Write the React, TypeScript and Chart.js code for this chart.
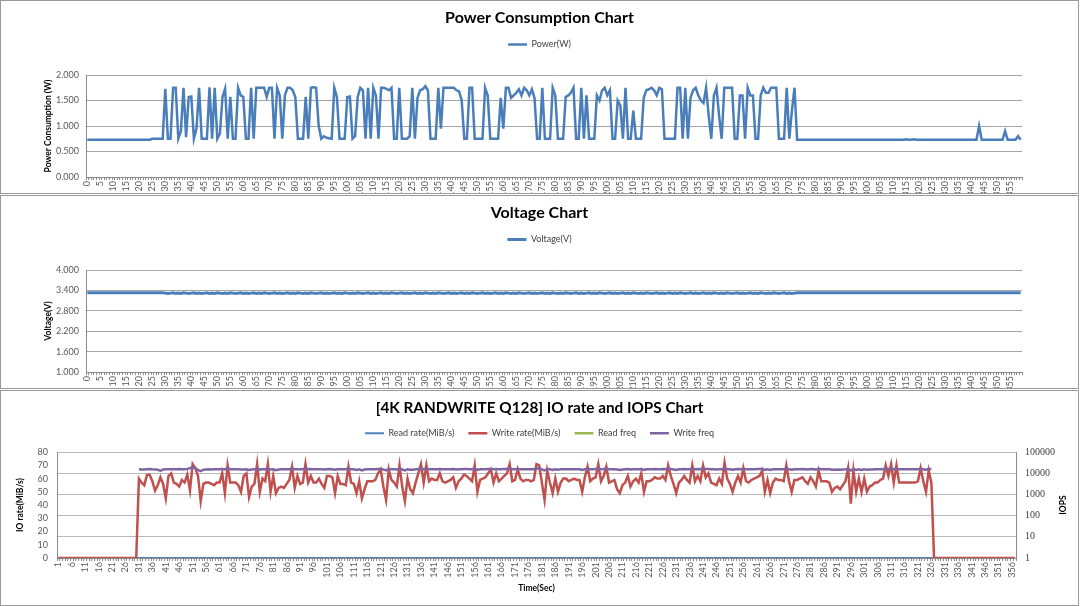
import React, { useEffect, useRef } from 'react';
import { Chart, registerables } from 'chart.js';

Chart.register(...registerables);

const FONT = 'Lato, "Noto Sans", "DejaVu Sans", sans-serif';
const SERIF = '"Liberation Serif", "DejaVu Serif", serif';

// ---------- Power chart (W), seconds 0..359 ----------
const powerIdleHead = [
  0.73, 0.73, 0.73, 0.73, 0.73, 0.73, 0.73, 0.73, 0.73, 0.73,
  0.73, 0.73, 0.73, 0.73, 0.73, 0.73, 0.73, 0.73, 0.73, 0.73,
  0.73, 0.73, 0.73, 0.73, 0.73, 0.75, 0.75, 0.75, 0.75, 0.75,
];
const powerLoad = [
  1.73, 0.75, 0.75, 1.75, 1.75, 0.75, 0.9, 1.75, 0.78, 1.57,
  1.58, 0.75, 0.95, 1.75, 0.75, 0.75, 0.75, 1.76, 0.75, 1.75,
  0.75, 0.85, 1.57, 1.73, 0.75, 1.57, 0.75, 0.75, 1.75, 1.6,
  1.57, 0.75, 0.75, 1.75, 0.75, 1.75, 1.75, 1.75, 1.75, 1.57,
  1.75, 1.75, 0.75, 1.75, 1.6, 0.75, 1.6, 1.75, 1.75, 1.7,
  1.57, 0.75, 0.75, 0.75, 1.57, 0.75, 1.75, 1.76, 1.75, 1.0,
  0.75, 0.8, 0.77, 0.76, 0.75, 1.75, 1.57, 0.75, 0.75, 0.75,
  1.57, 1.58, 0.75, 0.8, 1.57, 1.75, 1.7, 0.75, 1.75, 0.75,
  1.75, 1.6, 0.75, 1.75, 1.75, 1.73, 1.7, 1.75, 0.75, 0.75,
  1.75, 0.75, 0.75, 0.75, 0.8, 1.75, 0.75, 1.55, 1.7, 1.72,
  1.78, 1.7, 0.75, 0.75, 0.75, 1.75, 0.95, 1.75, 1.75, 1.75,
  1.75, 1.75, 1.7, 1.68, 1.5, 0.75, 0.75, 1.75, 1.75, 0.75,
  0.75, 0.75, 0.75, 1.75, 1.6, 0.75, 0.75, 0.75, 0.75, 1.55,
  0.95, 1.75, 1.75, 1.55, 1.6, 1.65, 1.72, 1.6, 1.75, 1.7,
  1.6, 1.72, 1.55, 0.75, 0.75, 1.75, 0.75, 0.75, 0.75, 1.75,
  1.6, 0.75, 0.75, 0.75, 1.57, 1.6, 1.65, 1.75, 0.75, 0.75,
  1.75, 0.75, 1.6, 0.75, 0.75, 0.75, 1.6, 1.5, 1.7, 1.75,
  1.6, 1.7, 0.75, 0.75, 1.5, 1.4, 0.75, 1.75, 0.75, 0.75,
  1.3, 0.75, 0.75, 0.75, 1.55, 1.7, 1.72, 1.75, 1.7, 1.6,
  1.75, 1.72, 0.75, 0.75, 0.75, 0.75, 0.75, 1.75, 1.75, 0.75,
  1.75, 0.75, 1.55, 1.7, 1.75, 1.6, 1.5, 1.45, 1.75, 1.2,
  0.75, 1.6, 1.75, 1.2, 0.75, 1.75, 1.75, 1.75, 1.75, 0.75,
  0.75, 1.6, 1.6, 0.75, 1.75, 1.6, 1.6, 0.75, 0.75, 1.6,
  1.75, 1.65, 1.65, 1.75, 1.75, 1.75, 0.75, 0.75, 0.75, 1.75,
  0.75, 1.3, 1.75,
];
const powerIdleTail = [
  0.73, 0.73, 0.73, 0.73, 0.73, 0.73, 0.73, 0.73, 0.73, 0.73,
  0.73, 0.73, 0.73, 0.73, 0.73, 0.73, 0.73, 0.73, 0.73, 0.73,
  0.73, 0.73, 0.73, 0.73, 0.73, 0.73, 0.73, 0.73, 0.73, 0.73,
  0.73, 0.73, 0.73, 0.73, 0.73, 0.73, 0.73, 0.73, 0.73, 0.73,
  0.73, 0.73, 0.74, 0.73, 0.73, 0.74, 0.73, 0.73, 0.73, 0.73,
  0.73, 0.73, 0.73, 0.73, 0.73, 0.73, 0.73, 0.73, 0.73, 0.73,
  0.73, 0.73, 0.73, 0.73, 0.73, 0.73, 0.73, 0.73, 0.73, 0.73,
  1.0, 0.73, 0.73, 0.73, 0.73, 0.73, 0.73, 0.73, 0.73, 0.73,
  0.9, 0.73, 0.73, 0.73, 0.73, 0.8, 0.73,
];

// ---------- Voltage chart (V), seconds 0..359 ----------
const voltageIdleHead = [
  3.33, 3.33, 3.33, 3.33, 3.33, 3.33, 3.33, 3.33, 3.33, 3.33,
  3.33, 3.33, 3.33, 3.33, 3.33, 3.33, 3.33, 3.33, 3.33, 3.33,
  3.33, 3.33, 3.33, 3.33, 3.33, 3.33, 3.33, 3.33, 3.33, 3.33,
];
const voltageLoad = [
  3.32, 3.31, 3.32, 3.33, 3.31, 3.32, 3.31, 3.33, 3.32, 3.31,
  3.32, 3.33, 3.31, 3.32, 3.31, 3.32, 3.33, 3.31, 3.32, 3.31,
  3.33, 3.32, 3.31, 3.32, 3.31, 3.33, 3.32, 3.31, 3.32, 3.33,
  3.31, 3.32, 3.31, 3.32, 3.33, 3.31, 3.32, 3.31, 3.33, 3.32,
  3.31, 3.32, 3.33, 3.31, 3.32, 3.31, 3.32, 3.33, 3.31, 3.32,
  3.31, 3.33, 3.32, 3.31, 3.32, 3.31, 3.33, 3.32, 3.31, 3.32,
  3.33, 3.31, 3.32, 3.31, 3.32, 3.33, 3.31, 3.32, 3.31, 3.33,
  3.32, 3.31, 3.32, 3.31, 3.33, 3.32, 3.31, 3.32, 3.33, 3.31,
  3.32, 3.31, 3.32, 3.33, 3.31, 3.32, 3.31, 3.33, 3.32, 3.31,
  3.32, 3.33, 3.31, 3.32, 3.31, 3.32, 3.33, 3.31, 3.32, 3.31,
  3.33, 3.32, 3.31, 3.32, 3.31, 3.33, 3.32, 3.31, 3.32, 3.33,
  3.31, 3.32, 3.31, 3.32, 3.33, 3.31, 3.32, 3.31, 3.33, 3.32,
  3.31, 3.32, 3.33, 3.31, 3.32, 3.31, 3.32, 3.33, 3.31, 3.32,
  3.31, 3.33, 3.32, 3.31, 3.32, 3.31, 3.33, 3.32, 3.31, 3.32,
  3.33, 3.31, 3.32, 3.31, 3.32, 3.33, 3.31, 3.32, 3.31, 3.33,
  3.32, 3.31, 3.32, 3.31, 3.33, 3.32, 3.31, 3.32, 3.33, 3.31,
  3.32, 3.31, 3.32, 3.33, 3.31, 3.32, 3.31, 3.33, 3.32, 3.31,
  3.32, 3.33, 3.31, 3.32, 3.31, 3.32, 3.33, 3.31, 3.32, 3.31,
  3.33, 3.32, 3.31, 3.32, 3.31, 3.33, 3.32, 3.31, 3.32, 3.33,
  3.31, 3.32, 3.31, 3.32, 3.33, 3.31, 3.32, 3.31, 3.33, 3.32,
  3.31, 3.32, 3.33, 3.31, 3.32, 3.31, 3.32, 3.33, 3.31, 3.32,
  3.31, 3.33, 3.32, 3.31, 3.32, 3.31, 3.33, 3.32, 3.31, 3.32,
  3.33, 3.31, 3.32, 3.31, 3.32, 3.33, 3.31, 3.32, 3.31, 3.33,
  3.32, 3.31, 3.32, 3.31, 3.33, 3.32, 3.31, 3.32, 3.33, 3.31,
  3.32, 3.31, 3.32,
];
const voltageIdleTail = [
  3.33, 3.33, 3.33, 3.33, 3.33, 3.33, 3.33, 3.33, 3.33, 3.33,
  3.33, 3.33, 3.33, 3.33, 3.33, 3.33, 3.33, 3.33, 3.33, 3.33,
  3.33, 3.33, 3.33, 3.33, 3.33, 3.33, 3.33, 3.33, 3.33, 3.33,
  3.33, 3.33, 3.33, 3.33, 3.33, 3.33, 3.33, 3.33, 3.33, 3.33,
  3.33, 3.33, 3.33, 3.33, 3.33, 3.33, 3.33, 3.33, 3.33, 3.33,
  3.33, 3.33, 3.33, 3.33, 3.33, 3.33, 3.33, 3.33, 3.33, 3.33,
  3.33, 3.33, 3.33, 3.33, 3.33, 3.33, 3.33, 3.33, 3.33, 3.33,
  3.33, 3.33, 3.33, 3.33, 3.33, 3.33, 3.33, 3.33, 3.33, 3.33,
  3.33, 3.33, 3.33, 3.33, 3.33, 3.33, 3.33,
];

// ---------- IO chart, seconds 1..357 ----------
const writeRateIdleHead = [
  0, 0, 0, 0, 0, 0, 0, 0, 0, 0,
  0, 0, 0, 0, 0, 0, 0, 0, 0, 0,
  0, 0, 0, 0, 0, 0, 0, 0, 0, 0,
];
const writeRateLoad = [
  60, 57, 55, 63, 63, 58, 51, 55, 61, 56,
  45, 62, 64, 57, 56, 54, 59, 57, 63, 51,
  71, 68, 62, 43, 56, 57, 57, 56, 55, 57,
  57, 64, 49, 70, 57, 57, 57, 55, 50, 62,
  64, 46, 54, 56, 71, 50, 60, 58, 71, 50,
  62, 49, 53, 54, 53, 56, 59, 69, 53, 62,
  56, 57, 71, 57, 62, 57, 57, 60, 56, 53,
  62, 62, 61, 49, 62, 56, 56, 55, 69, 57,
  56, 49, 58, 45, 52, 58, 58, 58, 59, 64,
  67, 54, 44, 67, 59, 57, 54, 70, 54, 43,
  60, 52, 49, 57, 64, 71, 57, 70, 58, 60,
  59, 59, 64, 58, 57, 58, 59, 61, 53, 58,
  60, 63, 62, 60, 58, 70, 50, 59, 60, 61,
  64, 67, 57, 64, 58, 60, 62, 64, 71, 58,
  59, 67, 60, 58, 59, 59, 58, 59, 71, 70,
  57, 44, 66, 57, 49, 60, 50, 57, 60, 60,
  58, 59, 60, 59, 59, 50, 61, 69, 58, 60,
  61, 71, 58, 62, 69, 57, 58, 59, 52, 49,
  55, 57, 62, 54, 58, 60, 57, 64, 50, 58,
  58, 59, 61, 60, 60, 62, 59, 70, 62, 56,
  49, 57, 59, 62, 59, 57, 70, 58, 62, 58,
  70, 61, 64, 57, 56, 55, 60, 56, 72, 60,
  56, 50, 57, 62, 57, 68, 58, 57, 59, 60,
  61, 62, 66, 50, 59, 49, 57, 60, 59, 59,
  58, 70, 58, 50, 59, 59, 60, 61, 58, 56,
  61, 58, 54, 66, 58, 58, 58, 57, 50, 53,
  54, 52, 55, 58, 68, 41, 66, 50, 60, 50,
  60, 50, 54, 55, 57, 57, 59, 60, 70, 62,
  71, 57, 70, 57, 57, 57, 57, 57, 57, 57,
  58, 68, 58, 50, 66, 57,
];
const writeRateIdleTail = [
  0, 0, 0, 0, 0, 0, 0, 0, 0, 0,
  0, 0, 0, 0, 0, 0, 0, 0, 0, 0,
  0, 0, 0, 0, 0, 0, 0, 0, 0, 0,
  0,
];
const readRate = [
  0, 0, 0, 0, 0, 0, 0, 0, 0, 0, 0, 0, 0, 0, 0, 0, 0, 0, 0, 0,
  0, 0, 0, 0, 0, 0, 0, 0, 0, 0, 0, 0, 0, 0, 0, 0, 0, 0, 0, 0,
  0, 0, 0, 0, 0, 0, 0, 0, 0, 0, 0, 0, 0, 0, 0, 0, 0, 0, 0, 0,
  0, 0, 0, 0, 0, 0, 0, 0, 0, 0, 0, 0, 0, 0, 0, 0, 0, 0, 0, 0,
  0, 0, 0, 0, 0, 0, 0, 0, 0, 0, 0, 0, 0, 0, 0, 0, 0, 0, 0, 0,
  0, 0, 0, 0, 0, 0, 0, 0, 0, 0, 0, 0, 0, 0, 0, 0, 0, 0, 0, 0,
  0, 0, 0, 0, 0, 0, 0, 0, 0, 0, 0, 0, 0, 0, 0, 0, 0, 0, 0, 0,
  0, 0, 0, 0, 0, 0, 0, 0, 0, 0, 0, 0, 0, 0, 0, 0, 0, 0, 0, 0,
  0, 0, 0, 0, 0, 0, 0, 0, 0, 0, 0, 0, 0, 0, 0, 0, 0, 0, 0, 0,
  0, 0, 0, 0, 0, 0, 0, 0, 0, 0, 0, 0, 0, 0, 0, 0, 0, 0, 0, 0,
  0, 0, 0, 0, 0, 0, 0, 0, 0, 0, 0, 0, 0, 0, 0, 0, 0, 0, 0, 0,
  0, 0, 0, 0, 0, 0, 0, 0, 0, 0, 0, 0, 0, 0, 0, 0, 0, 0, 0, 0,
  0, 0, 0, 0, 0, 0, 0, 0, 0, 0, 0, 0, 0, 0, 0, 0, 0, 0, 0, 0,
  0, 0, 0, 0, 0, 0, 0, 0, 0, 0, 0, 0, 0, 0, 0, 0, 0, 0, 0, 0,
  0, 0, 0, 0, 0, 0, 0, 0, 0, 0, 0, 0, 0, 0, 0, 0, 0, 0, 0, 0,
  0, 0, 0, 0, 0, 0, 0, 0, 0, 0, 0, 0, 0, 0, 0, 0, 0, 0, 0, 0,
  0, 0, 0, 0, 0, 0, 0, 0, 0, 0, 0, 0, 0, 0, 0, 0, 0, 0, 0, 0,
  0, 0, 0, 0, 0, 0, 0, 0, 0, 0, 0, 0, 0, 0, 0, 0, 0,
];
const readFreq: (number | null)[] = [];
const writeFreqIdleHead = [
  null, null, null, null, null, null, null, null, null, null,
  null, null, null, null, null, null, null, null, null, null,
  null, null, null, null, null, null, null, null, null, null,
];
const writeFreqLoad = [
  15500, 15300, 15200, 15600, 15800, 15400, 15200, 14800, 13000, 15200,
  15400, 15500, 15700, 15600, 15500, 15800, 15700, 15600, 16000, 17500,
  20000, 17000, 14500, 12800, 14800, 15300, 15400, 15300, 15500, 15600,
  15400, 15900, 15200, 18500, 15500, 15400, 15600, 15500, 15300, 15200,
  15600, 14500, 15300, 15500, 17500, 15000, 15600, 15500, 16500, 15200,
  15400, 14200, 15200, 15600, 15500, 15400, 15700, 16200, 15400, 15600,
  15500, 15600, 16800, 15500, 15800, 15600, 15500, 15700, 15400, 15300,
  15600, 15800, 15700, 14800, 15600, 15500, 15400, 15700, 16500, 15600,
  15500, 14500, 15400, 13800, 15200, 15600, 15600, 15500, 15700, 15900,
  16200, 15300, 13800, 16000, 15600, 15500, 15300, 16800, 15200, 13600,
  15400, 14600, 14800, 15600, 15900, 17000, 15500, 16800, 15600, 15700,
  15600, 15600, 15900, 15500, 15500, 15600, 15600, 15800, 15000, 15500,
  15700, 15900, 15800, 15600, 15500, 16800, 14600, 15600, 15600, 15700,
  15900, 16200, 15500, 15900, 15500, 15600, 15800, 15900, 17000, 15500,
  15600, 16200, 15700, 15500, 15600, 15600, 15500, 15600, 17000, 16800,
  15400, 13800, 16000, 15500, 14500, 15700, 14700, 15500, 15700, 15700,
  15600, 15600, 15700, 15600, 15600, 14600, 15700, 16600, 15500, 15700,
  15800, 17000, 15500, 15900, 16600, 15500, 15600, 15600, 15000, 14500,
  15200, 15500, 15900, 15100, 15500, 15700, 15500, 15900, 14600, 15500,
  15500, 15600, 15800, 15700, 15700, 15900, 15600, 16900, 15900, 15300,
  14500, 15500, 15600, 15900, 15600, 15500, 16900, 15500, 15900, 15500,
  16900, 15800, 15900, 15500, 15400, 15300, 15700, 15400, 17200, 15700,
  15400, 14600, 15500, 15900, 15500, 16500, 15600, 15500, 15600, 15700,
  15800, 15900, 16300, 14600, 15600, 14500, 15500, 15700, 15600, 15600,
  15600, 16900, 15500, 14600, 15600, 15600, 15700, 15800, 15500, 15300,
  15800, 15500, 15000, 16300, 15500, 15500, 15500, 15400, 14600, 14900,
  15000, 14700, 15200, 15500, 16500, 13500, 16200, 14600, 15700, 14600,
  15700, 14600, 15100, 15200, 15400, 15400, 15600, 15700, 16900, 15900,
  17200, 15400, 16900, 15400, 15400, 15400, 15400, 15400, 15400, 15400,
  15500, 16600, 15500, 14600, 16300, 15400,
];
const iopsTicks = [1, 10, 100, 1000, 10000, 100000];
const iopsTitle = 'IOPS';

const powerSeconds = Array.from({ length: 360 }, (_, i) => String(i));
const ioSeconds = Array.from({ length: 357 }, (_, i) => String(i + 1));

const powerW = [...powerIdleHead, ...powerLoad, ...powerIdleTail];
const voltageV = [...voltageIdleHead, ...voltageLoad, ...voltageIdleTail];
const writeRate = [...writeRateIdleHead, ...writeRateLoad, ...writeRateIdleTail];
const writeFreq = [...writeFreqIdleHead, ...writeFreqLoad];

// ---------- shared option helpers ----------
const AXIS_COLOR = '#8c8c8c';
const TICK_COLOR = '#595959';

function categoryAxis(labels: string[], height: number, extra: any = {}) {
  return {
    type: 'category',
    offset: true,
    grid: { display: true, drawOnChartArea: false, drawTicks: true, tickLength: 3, color: AXIS_COLOR, lineWidth: 1, offset: true },
    border: { display: true, color: AXIS_COLOR, width: 1 },
    ticks: {
      autoSkip: false, minRotation: 90, maxRotation: 90, padding: 1, color: TICK_COLOR,
      font: { family: FONT, size: 9 },
      callback: (_v: any, i: number) => (i % 5 === 0 ? labels[i] : ''),
    },
    afterFit: (s: any) => { s.height = height; },
    ...extra,
  };
}

function spacerAxis(position: string, size: number) {
  const horizontal = position === 'top' || position === 'bottom';
  return {
    type: 'linear', position, display: true,
    grid: { display: false, drawTicks: false }, border: { display: false }, ticks: { display: false },
    afterFit: (s: any) => { if (horizontal) { s.height = size; } else { s.width = size; } },
  };
}

// title centre sits at y=17 of the canvas; its box is 17 + size/2 + padBottom tall
function titleOpts(text: string, size: number, padBottom: number) {
  return {
    display: true, text, color: '#000000',
    font: { family: FONT, size, weight: 'bold', lineHeight: 1 },
    padding: { top: 17 - size / 2, bottom: padBottom },
  };
}

const LEGEND_HEIGHT = 9 + 14 + 10;
const legendOpts = {
  display: true, position: 'top',
  labels: {
    usePointStyle: true, pointStyle: 'line', pointStyleWidth: 19, padding: 14,
    color: '#404040', font: { family: FONT, size: 9 },
    sort: (a: any, b: any) => a.datasetIndex - b.datasetIndex,
  },
};

function axisTitle(text: string, padTop: number, padBottom = 0) {
  return {
    display: true, text, color: '#000000',
    font: { family: FONT, size: 8.5, weight: 'bold' },
    padding: { top: padTop, bottom: padBottom },
  };
}

function buildSingle(canvas: HTMLCanvasElement, opts: {
  labels: string[]; data: number[]; label: string; title: string; color: string; width: number;
  min: number; max: number; step: number; yTitle: string;
}) {
  const titleSize = 16;
  const chartTop = 74;
  return new Chart(canvas, {
    type: 'line',
    data: {
      labels: opts.labels,
      datasets: [{
        label: opts.label, data: opts.data, borderColor: opts.color, backgroundColor: opts.color,
        borderWidth: opts.width, pointRadius: 0, tension: 0, xAxisID: 'x', yAxisID: 'y',
      }],
    },
    options: {
      responsive: false, animation: false, devicePixelRatio: 1, events: [],
      layout: { padding: 0 },
      scales: {
        x: categoryAxis(opts.labels, 16),
        y: {
          type: 'linear', position: 'left', min: opts.min, max: opts.max,
          grid: { color: '#a6a6a6', lineWidth: 1, drawTicks: false },
          border: { display: true, color: AXIS_COLOR },
          ticks: { stepSize: opts.step, autoSkip: false, padding: 7, color: TICK_COLOR, font: { family: FONT, size: 9 },
            callback: (v: any) => Number(v).toFixed(3) },
          title: axisTitle(opts.yTitle, 42),
          afterFit: (s: any) => { s.width = 85; },
        },
        gapTop: spacerAxis('top', chartTop - (17 + titleSize / 2) - LEGEND_HEIGHT),
        gapRight: spacerAxis('right', 56),
      } as any,
      plugins: {
        title: titleOpts(opts.title, titleSize, 0) as any,
        legend: legendOpts as any,
        tooltip: { enabled: false },
      },
    },
  });
}

const buildPower = (c: HTMLCanvasElement) => buildSingle(c, {
  labels: powerSeconds, data: powerW, label: 'Power(W)', title: 'Power Consumption Chart',
  color: '#4a7ebb', width: 2.5, min: 0, max: 2, step: 0.5, yTitle: 'Power Consumption (W)',
});

const buildVoltage = (c: HTMLCanvasElement) => buildSingle(c, {
  labels: powerSeconds, data: voltageV, label: 'Voltage(V)', title: 'Voltage Chart',
  color: '#4a7ebb', width: 3, min: 1, max: 4, step: 0.6, yTitle: 'Voltage(V)',
});

const rightTitlePlugin = {
  id: 'rightTitle',
  afterDraw(chart: any) {
    const s = chart.scales.y2;
    if (!s) return;
    const ctx = chart.ctx;
    ctx.save();
    ctx.translate(s.right - 15, (s.top + s.bottom) / 2);
    ctx.rotate(-Math.PI / 2);
    ctx.font = `bold 8.5px ${FONT}`;
    ctx.fillStyle = '#000000';
    ctx.textAlign = 'center';
    ctx.textBaseline = 'middle';
    ctx.fillText(iopsTitle, 0, 0);
    ctx.restore();
  },
};

const buildIO = (c: HTMLCanvasElement) => new Chart(c, {
  type: 'line',
  data: {
    labels: ioSeconds,
    datasets: [
      { label: 'Read rate(MiB/s)', data: readRate, borderColor: '#4f81bd', backgroundColor: '#4f81bd',
        borderWidth: 2, pointRadius: 0, tension: 0, xAxisID: 'x', yAxisID: 'y', order: 3 },
      { label: 'Write rate(MiB/s)', data: writeRate, borderColor: '#c0504d', backgroundColor: '#c0504d',
        borderWidth: 2.5, pointRadius: 0, tension: 0, xAxisID: 'x', yAxisID: 'y', order: 1 },
      { label: 'Read freq', data: readFreq, borderColor: '#9bbb59', backgroundColor: '#9bbb59',
        borderWidth: 2.5, pointRadius: 0, tension: 0, xAxisID: 'x', yAxisID: 'y2', order: 2 },
      { label: 'Write freq', data: writeFreq, borderColor: '#8064a2', backgroundColor: '#8064a2',
        borderWidth: 2.5, pointRadius: 0, tension: 0, xAxisID: 'x', yAxisID: 'y2', order: 0 },
    ],
  },
  options: {
    responsive: false, animation: false, devicePixelRatio: 1, events: [],
    layout: { padding: 0 },
    scales: {
      x: categoryAxis(ioSeconds, 47, {
        title: { display: true, text: 'Time(Sec)', color: '#000000', font: { family: FONT, size: 8.5, weight: 'bold' },
          padding: { top: 0, bottom: 12 } },
      }),
      y: {
        type: 'linear', position: 'left', min: 0, max: 80,
        grid: { display: false, drawTicks: false },
        border: { display: true, color: AXIS_COLOR },
        ticks: { stepSize: 10, autoSkip: false, padding: 9, color: TICK_COLOR, font: { family: FONT, size: 9 } },
        title: axisTitle('IO rate(MiB/s)', 14),
        afterFit: (s: any) => { s.width = 56; },
      },
      y2: {
        type: 'logarithmic', position: 'right', min: 1, max: 100000,
        grid: { color: '#b8b8b8', lineWidth: 1, drawTicks: false },
        border: { display: true, color: AXIS_COLOR },
        ticks: { autoSkip: false, padding: 9, color: '#404040', font: { family: SERIF, size: 10 }, callback: (v: any) => String(v) },
        afterBuildTicks: (s: any) => { s.ticks = iopsTicks.map((v) => ({ value: v })); },
        afterFit: (s: any) => { s.width = 62; },
      },
      gapTop: spacerAxis('top', 4.5),
    } as any,
    plugins: {
      title: titleOpts('[4K RANDWRITE Q128] IO rate and IOPS Chart', 15.3, -1) as any,
      legend: legendOpts as any,
      tooltip: { enabled: false },
    },
  },
  plugins: [rightTitlePlugin],
});

type PanelProps = { top: number; height: number; build: (c: HTMLCanvasElement) => Chart };

function Panel({ top, height, build }: PanelProps) {
  const ref = useRef<HTMLCanvasElement>(null);
  useEffect(() => {
    const chart = build(ref.current as HTMLCanvasElement);
    return () => chart.destroy();
  }, [build]);
  return (
    <div style={{
      position: 'absolute', left: 0, top, width: 1079, height, boxSizing: 'border-box',
      border: '1px solid #9a9a9a', overflow: 'hidden', background: '#ffffff',
    }}>
      <canvas ref={ref} width={1077} height={height - 2}
        style={{ display: 'block', width: 1077, height: height - 2 }} />
    </div>
  );
}

export default function App() {
  return (
    <div style={{ position: 'absolute', left: 0, top: 0, width: 1080, height: 606, background: '#ffffff' }}>
      <Panel top={0} height={194} build={buildPower} />
      <Panel top={195} height={194} build={buildVoltage} />
      <Panel top={390} height={216} build={buildIO} />
    </div>
  );
}
